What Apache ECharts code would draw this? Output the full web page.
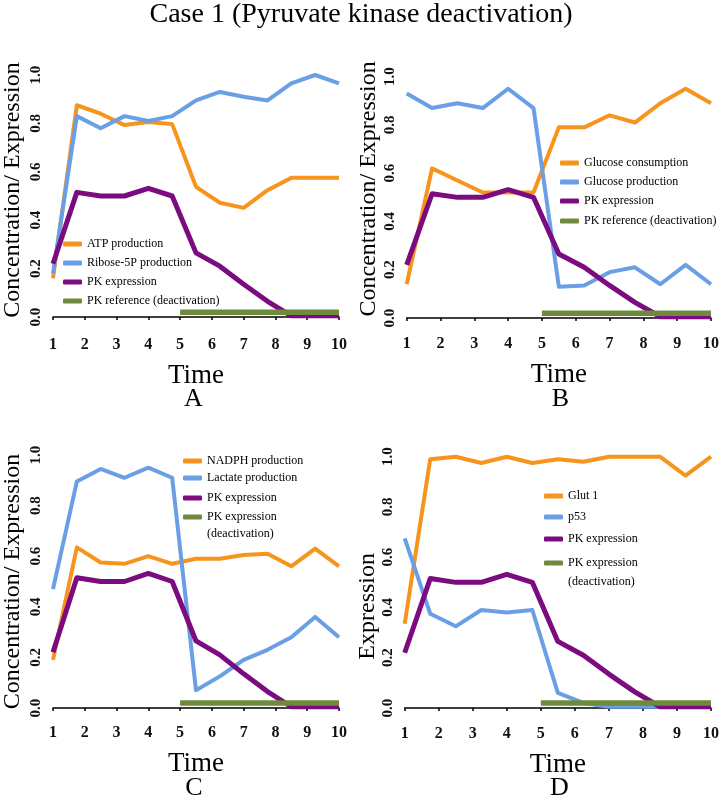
<!DOCTYPE html>
<html><head><meta charset="utf-8">
<script src="https://cdn.jsdelivr.net/npm/echarts@6/dist/echarts.min.js"></script>
<style>html,body{margin:0;padding:0;background:#fff}#c{width:722px;height:804px}</style>
</head><body><div id="c"></div>
<script>
// ---------- DATA ----------
const timePoints = [1, 1.75, 2.5, 3.25, 4, 4.75, 5.5, 6.25, 7, 7.75, 8.5, 9.25, 10];
const xTicks = [1, 2, 3, 4, 5, 6, 7, 8, 9, 10];
const yTicks = [0, 0.2, 0.4, 0.6, 0.8, 1.0];

const pkExpression = [0.22, 0.515, 0.50, 0.50, 0.532, 0.50, 0.265, 0.21, 0.135, 0.065, 0.005, 0.005, 0.005];
const pkDeactTime = [5, 10];
const pkDeactValue = [0.02, 0.02];

// Panel A
const atpProduction = [0.16, 0.875, 0.84, 0.793, 0.806, 0.797, 0.538, 0.472, 0.451, 0.524, 0.575, 0.575, 0.575];
const ribose5PProduction = [0.18, 0.83, 0.78, 0.83, 0.81, 0.83, 0.895, 0.93, 0.91, 0.895, 0.965, 1.0, 0.965];
// Panel B
const glucoseConsumption = [0.14, 0.62, 0.57, 0.52, 0.52, 0.52, 0.79, 0.79, 0.84, 0.81, 0.89, 0.95, 0.89];
const glucoseProduction = [0.93, 0.87, 0.89, 0.87, 0.95, 0.87, 0.13, 0.135, 0.19, 0.21, 0.14, 0.22, 0.14];
// Panel C
const nadphProduction = [0.19, 0.635, 0.575, 0.57, 0.60, 0.57, 0.59, 0.59, 0.605, 0.61, 0.56, 0.63, 0.56];
const lactateProduction = [0.47, 0.895, 0.945, 0.91, 0.95, 0.91, 0.07, 0.125, 0.19, 0.23, 0.28, 0.36, 0.28];
// Panel D
const glut1 = [0.335, 0.99, 1.0, 0.975, 1.0, 0.975, 0.99, 0.98, 1.0, 1.0, 1.0, 0.925, 1.0];
const p53 = [0.675, 0.375, 0.325, 0.39, 0.38, 0.39, 0.06, 0.02, 0.005, 0.005, 0.005, 0.005, 0.005];

const panelNames = [
  ['ATP production', 'Ribose-5P production', 'PK expression', 'PK reference (deactivation)'],
  ['Glucose consumption', 'Glucose production', 'PK expression', 'PK reference (deactivation)'],
  ['NADPH production', 'Lactate production', 'PK expression', 'PK expression (deactivation)'],
  ['Glut 1', 'p53', 'PK expression', 'PK expression (deactivation)']
];
const panelValues = [
  [atpProduction, ribose5PProduction],
  [glucoseConsumption, glucoseProduction],
  [nadphProduction, lactateProduction],
  [glut1, p53]
];
const yNames = ['Concentration/ Expression', 'Concentration/ Expression', 'Concentration/ Expression', 'Expression'];
const panelLetters = ['A', 'B', 'C', 'D'];
const chartTitle = 'Case 1 (Pyruvate kinase deactivation)';

// ---------- STYLE / LAYOUT ----------
const FONT = "'Liberation Serif', 'Times New Roman', serif";
const COLORS = ['#F7941D', '#6A9FE6', '#7D0B80', '#6E8B3D'];
const WIDTHS = [4, 4, 5, 5.5];
const layout = [
  {left: 47.7, top: 75, width: 291.3, height: 242, offset: 13, nameGap: 28, namePad: [0, 0, 0, 12], legendLeft: 63, rows: [244, 263, 282, 301], second: 0, letterY: 399},
  {left: 406.7, top: 76.7, width: 307.3, height: 241.3, offset: 11, nameGap: 26, namePad: [0, 0, 0, 17], legendLeft: 560, rows: [163, 182, 201, 221], second: 0, letterY: 399},
  {left: 49, top: 455, width: 290, height: 253, offset: 10, nameGap: 28, namePad: [0, 0, 0, 0], legendLeft: 183, rows: [461, 478, 498, 517], second: 17, letterY: 788},
  {left: 404.7, top: 456.7, width: 309.3, height: 251.3, offset: 11, nameGap: 25, namePad: [0, 48, 0, 0], legendLeft: 544, rows: [496, 517, 539, 563], second: 19, letterY: 788}
];

const grids = [], xAxes = [], yAxes = [], series = [], legends = [], graphics = [];
const LH = 16;
const LEGEND_FS = 12;

layout.forEach((L, k) => {
  grids.push({left: L.left, top: L.top, width: L.width, height: L.height, containLabel: false});
  xAxes.push({
    type: 'value', gridIndex: k, min: 1, max: 10, interval: 1, offset: L.offset,
    name: 'Time', nameLocation: 'middle', nameGap: 32,
    nameTextStyle: {fontFamily: FONT, fontSize: 27, color: '#000', lineHeight: 27},
    axisLine: {show: true, lineStyle: {color: '#000', width: 1.5}},
    axisTick: {show: true, length: 3, lineStyle: {color: '#000', width: 1.5}},
    axisLabel: {fontFamily: FONT, fontWeight: 'bold', fontSize: 16, color: '#111', margin: 7, lineHeight: 16,
      formatter: v => xTicks.includes(v) ? String(v) : ''},
    splitLine: {show: false}
  });
  yAxes.push({
    type: 'value', gridIndex: k, min: 0, max: 1, interval: 0.2,
    name: yNames[k], nameLocation: 'middle', nameRotate: 90, nameGap: L.nameGap,
    nameTextStyle: {fontFamily: FONT, fontSize: 24, color: '#000', lineHeight: 24, padding: L.namePad},
    axisLine: {show: false}, axisTick: {show: false},
    axisLabel: {rotate: 90, margin: 9, fontFamily: FONT, fontWeight: 'bold', fontSize: 15, color: '#111', lineHeight: 15,
      formatter: v => yTicks.some(t => Math.abs(t - v) < 1e-9) ? v.toFixed(1) : ''},
    splitLine: {show: false}
  });
  const names = panelNames[k];
  const lines = [panelValues[k][0], panelValues[k][1], pkExpression];
  lines.forEach((arr, j) => {
    series.push({
      type: 'line', name: names[j], xAxisIndex: k, yAxisIndex: k,
      data: timePoints.map((t, i) => [t, arr[i]]),
      symbol: 'none', clip: false, color: COLORS[j],
      lineStyle: {color: COLORS[j], width: WIDTHS[j], join: 'round', cap: 'butt'},
      emphasis: {disabled: true}, z: 2 + j
    });
  });
  series.push({
    type: 'line', name: names[3], xAxisIndex: k, yAxisIndex: k,
    data: pkDeactTime.map((t, i) => [t, pkDeactValue[i]]),
    symbol: 'none', clip: false, color: COLORS[3],
    lineStyle: {color: COLORS[3], width: WIDTHS[3]},
    emphasis: {disabled: true}, z: 6
  });
  names.forEach((nm, j) => {
    const twoLine = nm === 'PK expression (deactivation)';
    legends.push({
      data: [nm], orient: 'vertical', left: L.legendLeft,
      top: L.rows[j] - LH / 2,
      padding: 0, itemWidth: 19, itemHeight: 5, icon: 'roundRect',
      selectedMode: false,
      formatter: twoLine ? () => 'PK expression' : undefined,
      textStyle: {fontFamily: FONT, fontSize: LEGEND_FS, color: '#000', lineHeight: LH}
    });
    if (twoLine) {
      graphics.push({
        type: 'text', x: L.legendLeft + 24, y: L.rows[j] + L.second,
        style: {text: '(deactivation)', font: LEGEND_FS + 'px ' + FONT, fill: '#000', align: 'left', verticalAlign: 'middle'}
      });
    }
  });
  graphics.push({
    type: 'text', x: L.left + L.width / 2, y: L.letterY,
    style: {text: panelLetters[k], font: '26px ' + FONT, fill: '#000', align: 'center', verticalAlign: 'middle'}
  });
});

const chart = echarts.init(document.getElementById('c'), null, {renderer: 'canvas'});
chart.setOption({
  animation: false,
  backgroundColor: '#fff',
  title: {text: chartTitle, left: 'center', top: 1, padding: [0, 0, 0, 22],
    textStyle: {fontFamily: FONT, fontSize: 28, fontWeight: 'normal', color: '#000', lineHeight: 28}},
  grid: grids, xAxis: xAxes, yAxis: yAxes, series: series, legend: legends, graphic: graphics
});
</script></body></html>
